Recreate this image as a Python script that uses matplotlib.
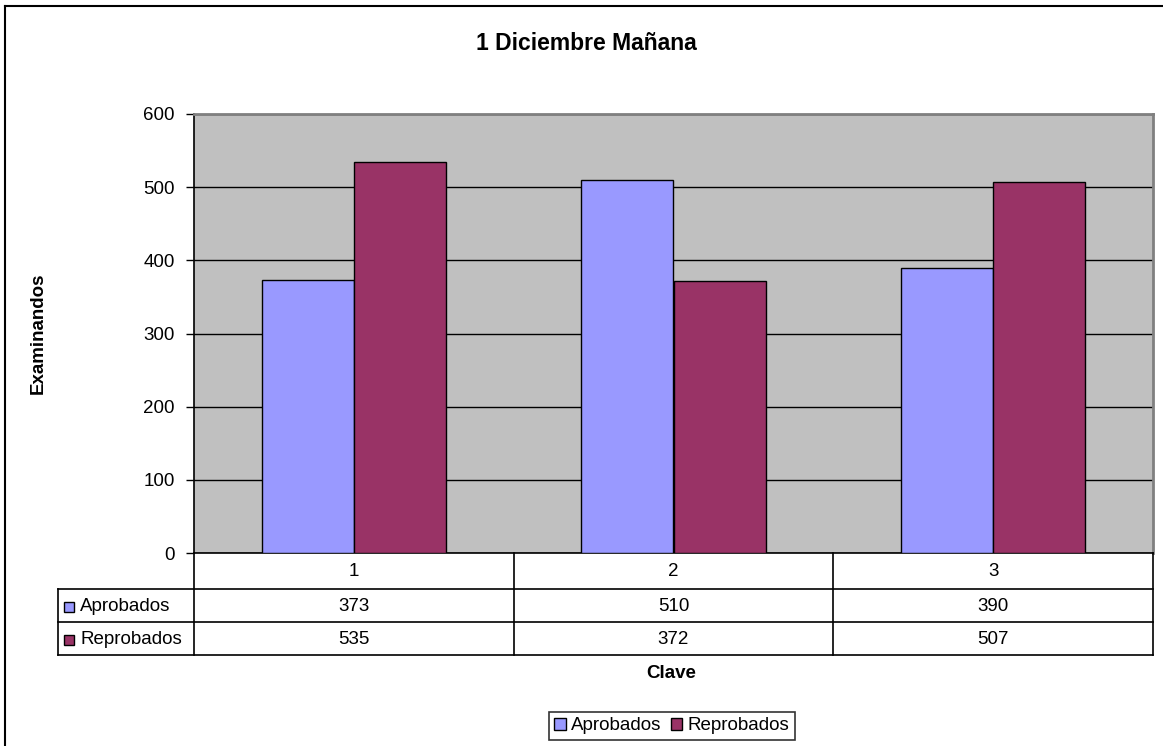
import matplotlib
matplotlib.use("Agg")
import matplotlib.pyplot as plt
from matplotlib.patches import Rectangle
from matplotlib.lines import Line2D

plt.rcParams['font.family'] = ['Liberation Sans', 'DejaVu Sans']

title = "1 Diciembre Mañana"
categories = ["1", "2", "3"]
series_names = ["Aprobados", "Reprobados"]
aprobados = [373, 510, 390]
reprobados = [535, 372, 507]
yticks = [0, 100, 200, 300, 400, 500, 600]
colors = ["#9999FF", "#993366"]

FS = 13.5

W, H = 1163, 746
fig = plt.figure(figsize=(W / 100, H / 100), dpi=100)

def fx(px):
    return px / W

def fy(py):
    return 1 - py / H

# outer chart border
fig.add_artist(Line2D([fx(5), fx(5)], [fy(6), fy(760)], color="black", lw=1.5))
fig.add_artist(Line2D([fx(5), fx(1170)], [fy(6), fy(6)], color="black", lw=1.5))

L, R, T, B = 194, 1153, 114, 553
ax = fig.add_axes([fx(L), fy(B), fx(R) - fx(L), fy(T) - fy(B)])
ax.set_facecolor("#C0C0C0")
ax.set_xlim(-0.5, len(categories) - 0.5)
ax.set_ylim(0, 600)
ax.set_yticks(yticks)
ax.set_yticklabels([str(v) for v in yticks], fontsize=FS)
ax.yaxis.grid(True, color="black", lw=1)
ax.set_axisbelow(True)
ax.tick_params(axis="y", length=6, width=1, direction="out", pad=8)
ax.set_xticks([])
for s in ["left", "bottom"]:
    ax.spines[s].set_color("black")
    ax.spines[s].set_linewidth(1.2)
for s in ["top", "right"]:
    ax.spines[s].set_color("#808080")
    ax.spines[s].set_linewidth(2)

bw = 0.288
xs = list(range(len(categories)))
b1 = ax.bar([x - bw / 2 for x in xs], aprobados, width=bw, color=colors[0],
            edgecolor="black", lw=1, zorder=3)
b2 = ax.bar([x + bw / 2 for x in xs], reprobados, width=bw, color=colors[1],
            edgecolor="black", lw=1, zorder=3)

# data table
rows_y = [553, 589, 622, 655]
tl = 58
col_w = (R - L) / len(categories)
def hline(x0, x1, y):
    fig.add_artist(Line2D([fx(x0), fx(x1)], [fy(y), fy(y)], color="black", lw=1.2))
def vline(x, y0, y1):
    fig.add_artist(Line2D([fx(x), fx(x)], [fy(y0), fy(y1)], color="black", lw=1.2))

hline(tl, R, rows_y[1])
hline(tl, R, rows_y[2])
hline(tl, R, rows_y[3])
vline(tl, rows_y[1], rows_y[3])
for i in range(len(categories) + 1):
    vline(L + i * col_w, rows_y[0], rows_y[3])

for i, c in enumerate(categories):
    cx = L + (i + 0.5) * col_w
    fig.text(fx(cx), fy((rows_y[0] + rows_y[1]) / 2 + 1), c, ha="center", va="center", fontsize=FS)
    fig.text(fx(cx), fy((rows_y[1] + rows_y[2]) / 2 + 1), str(aprobados[i]), ha="center", va="center", fontsize=FS)
    fig.text(fx(cx), fy((rows_y[2] + rows_y[3]) / 2 + 1), str(reprobados[i]), ha="center", va="center", fontsize=FS)

for j, (name, col) in enumerate(zip(series_names, colors)):
    ymid = (rows_y[1 + j] + rows_y[2 + j]) / 2 + 1
    fig.add_artist(Rectangle((fx(64), fy(ymid + 5)), fx(10), fy(0) - fy(10),
                             facecolor=col, edgecolor="black", lw=1))
    fig.text(fx(80), fy(ymid), name, ha="left", va="center", fontsize=FS)

fig.text(fx(586), fy(44), title, ha="center", va="center", fontsize=16.5, fontweight="bold")
fig.text(fx(671), fy(673), "Clave", ha="center", va="center", fontsize=FS, fontweight="bold")
fig.text(fx(38), fy(333), "Examinandos", ha="center", va="center", rotation=90,
         fontsize=FS, fontweight="bold")

leg = fig.legend([b1, b2], series_names, loc="center", bbox_to_anchor=(fx(672), fy(726)),
                 ncol=2, fontsize=FS, frameon=True, fancybox=False, edgecolor="black",
                 handlelength=0.6, handleheight=0.6, handletextpad=0.3, columnspacing=0.5,
                 borderpad=0.3, borderaxespad=0)
leg.get_frame().set_linewidth(1.2)

fig.savefig("out.png", dpi=100, facecolor="white")
